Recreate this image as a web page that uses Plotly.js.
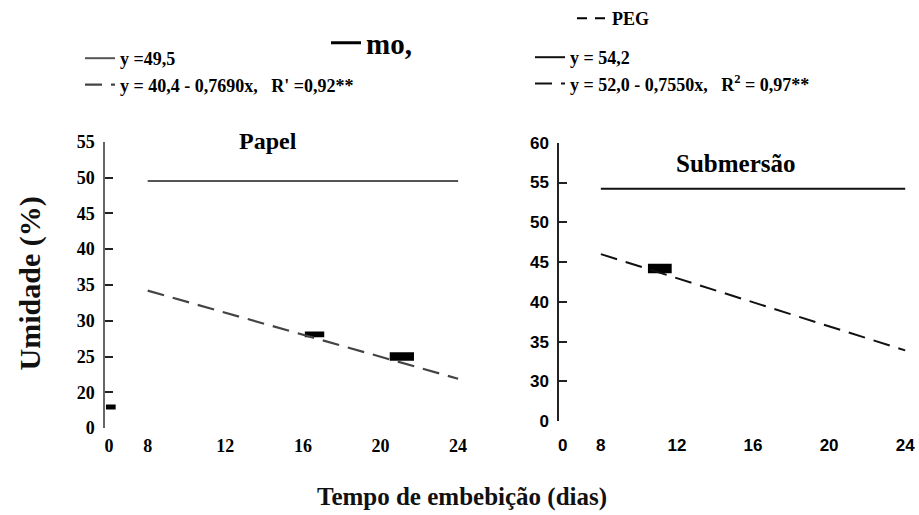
<!DOCTYPE html>
<html>
<head>
<meta charset="utf-8">
<script src="https://cdn.plot.ly/plotly-3.0.1.min.js"></script>
<style>html,body{margin:0;padding:0;background:#fff;}#chart{width:919px;height:515px;}</style>
</head>
<body>
<div id="chart"></div>
<script>
// ---- data ----
const lineDays = [8, 24];
const papelMean = [49.5, 49.5];          // y = 49,5
const papelFit = [34.2, 21.9];           // y = 40,4 - 0,7690x
const submMean = [54.2, 54.2];           // y = 54,2
const submFit = [46.0, 33.9];            // y = 52,0 - 0,7550x

// black blocks on the scan (day, lower and upper edge in %, width in days)
const papelBlockX = [16.6, 21.1, 6.1];
const papelBlockLow = [27.7, 24.4, 17.6];
const papelBlockHigh = [28.5, 25.6, 18.3];
const papelBlockW = [1.0, 1.25, 0.5];
const submBlockX = [11.1];
const submBlockLow = [43.6];
const submBlockHigh = [44.8];
const submBlockW = [1.25];

const xTickVals = [6, 8, 12, 16, 20, 24];
const xTickText = ['0', '8', '12', '16', '20', '24'];
const papelYTickVals = [15, 20, 25, 30, 35, 40, 45, 50, 55];
const papelYTickText = ['0', '20', '25', '30', '35', '40', '45', '50', '55'];
const submYTickVals = [25, 30, 35, 40, 45, 50, 55, 60];
const submYTickText = ['0', '30', '35', '40', '45', '50', '55', '60'];

const legendMain = ['mo,', 'PEG'];
const papelNames = ['y =49,5', 'y = 40,4 - 0,7690x,&nbsp;&nbsp; R\' =0,92**'];
const submNames = ['y = 54,2', 'y = 52,0 - 0,7550x,&nbsp;&nbsp; R<sup>2</sup> = 0,97**'];

const serif = 'Liberation Serif, Times New Roman, serif';
const sans = 'Liberation Sans, Arial, sans-serif';
const DASH = '17px,9px';
const B = s => '<b>' + s + '</b>';

const traces = [
  {x: lineDays, y: papelMean, xaxis: 'x', yaxis: 'y', mode: 'lines', name: B(papelNames[0]),
   line: {color: '#555', width: 2}, legend: 'legend3', legendgroup: 'p1'},
  {x: lineDays, y: papelFit, xaxis: 'x', yaxis: 'y', mode: 'lines', name: B(papelNames[1]),
   line: {color: '#444', width: 2.2, dash: DASH}, legend: 'legend3', legendgroup: 'p2'},
  {x: lineDays, y: submMean, xaxis: 'x2', yaxis: 'y2', mode: 'lines', name: B(submNames[0]),
   line: {color: '#111', width: 2}, legend: 'legend4', legendgroup: 's1'},
  {x: lineDays, y: submFit, xaxis: 'x2', yaxis: 'y2', mode: 'lines', name: B(submNames[1]),
   line: {color: '#111', width: 2, dash: DASH}, legend: 'legend4', legendgroup: 's2'},
  {type: 'bar', x: papelBlockX, base: papelBlockLow,
   y: papelBlockHigh.map((h, i) => h - papelBlockLow[i]), width: papelBlockW,
   xaxis: 'x', yaxis: 'y', showlegend: false, marker: {color: '#000', line: {width: 0}}},
  {type: 'bar', x: submBlockX, base: submBlockLow,
   y: submBlockHigh.map((h, i) => h - submBlockLow[i]), width: submBlockW,
   xaxis: 'x2', yaxis: 'y2', showlegend: false, marker: {color: '#000', line: {width: 0}}},
  {x: [null], y: [null], xaxis: 'x', yaxis: 'y', mode: 'lines', name: B(legendMain[0]),
   line: {color: '#000', width: 3}, legend: 'legend'},
  {x: [null], y: [null], xaxis: 'x2', yaxis: 'y2', mode: 'lines', name: B(legendMain[1]),
   line: {color: '#000', width: 2, dash: '10px,8px'}, legend: 'legend2'}
];

const W = 919, H = 515;
const px = v => v / W;
const py = v => 1 - v / H;

const xCommon = {
  range: [5.8, 24.2], tickvals: xTickVals, ticktext: xTickText.map(B),
  showline: false, zeroline: false, showgrid: false, ticks: '',
  ticklabelstandoff: 5
};
const yCommon = {
  showline: true, linewidth: 1.6, zeroline: false, showgrid: false,
  ticks: 'inside', ticklen: 8, tickwidth: 2, tickcolor: '#222',
  ticklabelstandoff: 5
};

const legBase = {bgcolor: 'rgba(0,0,0,0)', borderwidth: 0, xref: 'paper', yref: 'paper',
                 traceorder: 'grouped', tracegroupgap: 0};

const layout = {
  width: W, height: H,
  margin: {l: 0, r: 0, t: 0, b: 0},
  font: {family: serif, color: '#000'},
  paper_bgcolor: '#fff', plot_bgcolor: '#fff',
  showlegend: true, barmode: 'overlay',
  xaxis: Object.assign({}, xCommon, {domain: [px(105), px(462)], anchor: 'y',
         tickfont: {family: serif, size: 18, color: '#000'}}),
  yaxis: Object.assign({}, yCommon, {domain: [py(428), py(141)], anchor: 'x',
         range: [15, 55], tickvals: papelYTickVals, ticktext: papelYTickText.map(B),
         linecolor: '#666', tickfont: {family: serif, size: 18, color: '#000'}}),
  xaxis2: Object.assign({}, xCommon, {domain: [px(559), px(909)], anchor: 'y2',
         ticklabelstandoff: 12,
         tickfont: {family: sans, size: 17, color: '#000'}}),
  yaxis2: Object.assign({}, yCommon, {domain: [py(421), py(142)], anchor: 'x2',
         range: [25, 60], tickvals: submYTickVals, ticktext: submYTickText.map(B),
         linecolor: '#222', tickfont: {family: sans, size: 17, color: '#000'}}),
  legend: Object.assign({}, legBase, {x: px(326), y: py(43), xanchor: 'left', yanchor: 'middle',
          font: {family: serif, size: 29, color: '#000'}}),
  legend2: Object.assign({}, legBase, {x: px(572), y: py(18), xanchor: 'left', yanchor: 'middle',
          font: {family: serif, size: 18, color: '#000'}}),
  legend3: Object.assign({}, legBase, {x: px(80), y: py(40), xanchor: 'left', yanchor: 'top',
          font: {family: serif, size: 18, color: '#000'}}),
  legend4: Object.assign({}, legBase, {x: px(530), y: py(39), xanchor: 'left', yanchor: 'top',
          font: {family: serif, size: 18, color: '#000'}}),
  annotations: [
    {text: '<b>Papel</b>', xref: 'paper', yref: 'paper', x: px(268), y: py(140),
     xanchor: 'center', yanchor: 'middle', showarrow: false,
     font: {family: serif, size: 24, color: '#000'}},
    {text: '<b>Submersão</b>', xref: 'paper', yref: 'paper', x: px(735), y: py(163),
     xanchor: 'center', yanchor: 'middle', showarrow: false,
     font: {family: serif, size: 25, color: '#000'}},
    {text: '<b>Umidade (%)</b>', xref: 'paper', yref: 'paper', x: px(30), y: py(283),
     xanchor: 'center', yanchor: 'middle', showarrow: false, textangle: -90,
     font: {family: serif, size: 30, color: '#111'}},
    {text: '<b>Tempo de embebição (dias)</b>', xref: 'paper', yref: 'paper', x: px(462), y: py(497),
     xanchor: 'center', yanchor: 'middle', showarrow: false,
     font: {family: serif, size: 25, color: '#111'}}
  ]
};

Plotly.newPlot('chart', traces, layout, {displayModeBar: false, staticPlot: true});
</script>
</body>
</html>
